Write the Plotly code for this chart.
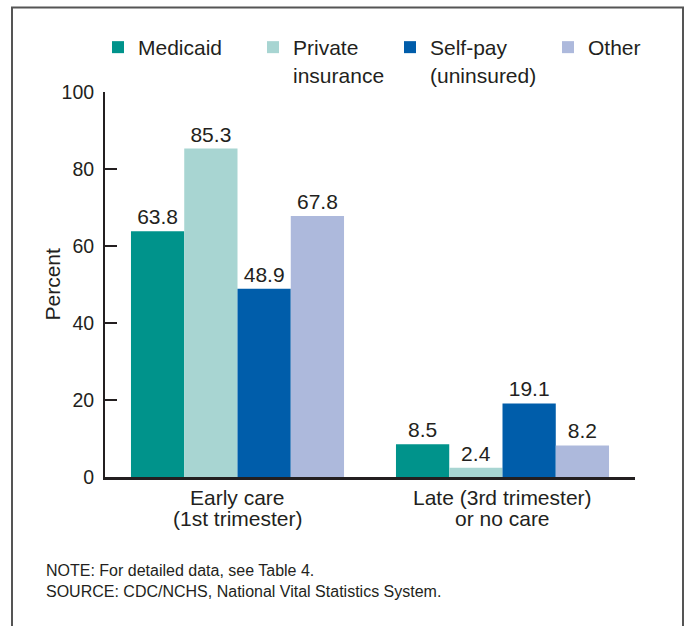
import plotly.graph_objects as go

categories = ["Early care<br>(1st trimester)", "Late (3rd trimester)<br>or no care"]
series_names = ["Medicaid", "Private<br>insurance", "Self-pay<br>(uninsured)", "Other"]
medicaid = [63.8, 8.5]
private_ins = [85.3, 2.4]
self_pay = [48.9, 19.1]
other = [67.8, 8.2]
y_ticks = [0, 20, 40, 60, 80, 100]

colors = ["#00938b", "#a8d5d2", "#005daa", "#adb9dc"]
FONT = "Liberation Sans, Arial, Helvetica, sans-serif"
TXT = "#231f20"

W, H = 686, 626
L, R, T, B = 105, 51, 92, 149
pw = W - L - R
ph = H - T - B

def px_x(p):
    return (p - L) / pw

def px_y(p):
    return (H - B - p) / ph

fig = go.Figure()
values = [medicaid, private_ins, self_pay, other]
legend_ids = ["legend", "legend2", "legend3", "legend4"]
for name, vals, col, lid in zip(series_names, values, colors, legend_ids):
    fig.add_trace(go.Bar(
        x=categories, y=vals, name=name, legend=lid,
        marker=dict(color=col, line=dict(width=0)),
        text=[f"{v:.1f}" for v in vals], textposition="outside",
        textfont=dict(family=FONT, size=21, color=TXT),
        constraintext="none", textangle=0, cliponaxis=False,
    ))

legend_x_px = [98, 253, 390, 548]
leg_common = dict(orientation="h", yanchor="top", xanchor="left",
                  font=dict(family=FONT, size=21, color=TXT),
                  bgcolor="rgba(0,0,0,0)", borderwidth=0, valign="top",
                  tracegroupgap=0)
legends = {}
for lid, xp in zip(legend_ids, legend_x_px):
    legends[lid] = dict(x=px_x(xp), y=px_y(27), **leg_common)

annotations = []
# category labels, one annotation per line for tighter line spacing
for cat in categories:
    for i, line in enumerate(cat.split("<br>")):
        annotations.append(dict(
            text=line, xref="x", yref="paper", x=cat, y=px_y(497 + 21.5 * i),
            xanchor="center", yanchor="middle", showarrow=False,
            font=dict(family=FONT, size=21, color=TXT)))
annotations.append(dict(
    text="Percent", xref="paper", yref="paper", x=px_x(52), y=0.5,
    textangle=-90, xanchor="center", yanchor="middle", showarrow=False,
    font=dict(family=FONT, size=21, color=TXT)))
annotations.append(dict(
    text="NOTE: For detailed data, see Table 4.<br>SOURCE: CDC/NCHS, National Vital Statistics System.",
    xref="paper", yref="paper", x=px_x(44), y=px_y(560),
    xanchor="left", yanchor="top", align="left", showarrow=False,
    font=dict(family=FONT, size=16, color=TXT)))

fig.update_layout(
    width=W, height=H,
    margin=dict(l=L, r=R, t=T, b=B, autoexpand=False),
    paper_bgcolor="white", plot_bgcolor="white",
    barmode="group", bargap=0.196, bargroupgap=0,
    font=dict(family=FONT, size=21, color=TXT),
    showlegend=True,
    **legends,
    xaxis=dict(
        showline=True, linecolor="#231f20", linewidth=3,
        ticks="", showgrid=False, zeroline=False, showticklabels=False,
    ),
    yaxis=dict(
        range=[0, 100], tickvals=y_ticks, ticks="inside", ticklen=12,
        tickwidth=2, tickcolor="#231f20",
        showline=True, linecolor="#231f20", linewidth=2,
        showgrid=False, zeroline=False,
        tickfont=dict(family=FONT, size=19.5, color=TXT),
        ticklabelstandoff=5,
        automargin=False,
    ),
    shapes=[dict(type="rect", xref="paper", yref="paper",
                 x0=px_x(12), x1=px_x(683), y0=px_y(640), y1=px_y(7.5),
                 line=dict(color="#555555", width=2), fillcolor="rgba(0,0,0,0)",
                 layer="below")],
    annotations=annotations,
)

fig.write_html(
    "out.html",
    config={"displayModeBar": False},
    post_script="document.body.style.margin='0';document.body.style.overflow='hidden';",
)
